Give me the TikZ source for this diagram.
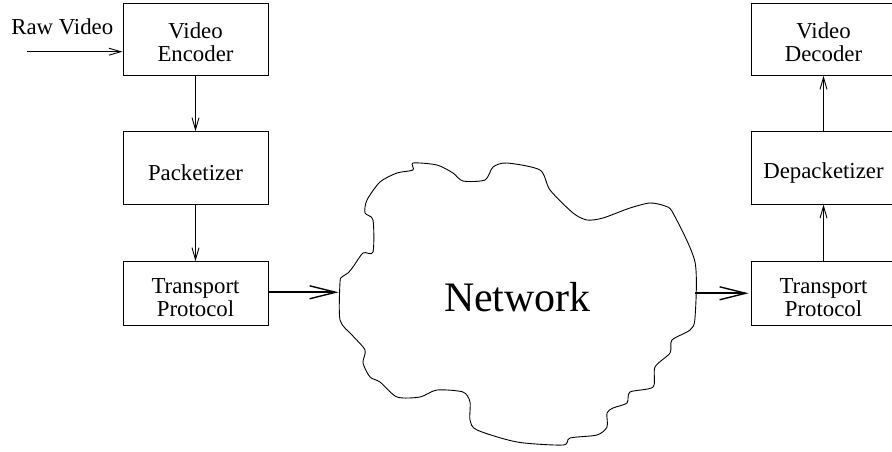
\documentclass[tikz,border=0pt]{standalone}
\usepackage{fontspec}
\setmainfont{Liberation Serif}
\usetikzlibrary{arrows.meta}
\begin{document}
\begin{tikzpicture}[x=1pt,y=-1pt,
  blk/.style={draw,line width=1pt,minimum width=145pt,inner sep=0pt},
  btxt/.style={align=center,font=\fontsize{22.8}{23.5}\selectfont,inner sep=0pt},
  thinarrow/.style={line width=0.9pt,-{Straight Barb[length=12pt,width=7pt,line width=0.9pt]}},
  thickarrow/.style={line width=1.8pt,-{Straight Barb[length=26pt,width=13pt,line width=1.4pt]}},
  cloud/.style={line width=0.9pt}]
\useasboundingbox (0,0) rectangle (892,452);
\clip (0,0) rectangle (892,452);
% left column
\node[blk,minimum height=72pt] (enc) at (195.5,39.3) {};
\node[blk,minimum height=72.3pt] (pkt) at (195.5,167.9) {};
\node[blk,minimum height=63.3pt] (tpl) at (195.5,293.4) {};
\node[btxt] (encT) at ([yshift=-3pt]enc.center) {Video\\Encoder};
\node[btxt] (pktT) at ([yshift=-5pt]pkt.center) {Packetizer};
\node[btxt] (tplT) at ([yshift=-4pt]tpl.center) {Transport\\Protocol};
% right column
\node[blk,minimum height=72pt] (dec) at (823.5,39.3) {};
\node[blk,minimum height=72.3pt] (dpk) at (823.5,167.9) {};
\node[blk,minimum height=63.3pt] (tpr) at (823.5,293.4) {};
\node[btxt] (decT) at ([yshift=-3pt]dec.center) {Video\\Decoder};
\node[btxt] (dpkT) at ([yshift=-5pt]dpk.center) {Depacketizer};
\node[btxt] (tprT) at ([yshift=-4pt]tpr.center) {Transport\\Protocol};
% raw video
\node[btxt,anchor=base west] (raw) at (11.2,35) {Raw Video};
\coordinate (rawS) at (26.7,51.7);
\draw[thinarrow] (rawS) -- (rawS -| enc.west);
% vertical arrows
\draw[thinarrow] (enc) -- (pkt);
\draw[thinarrow] (pkt) -- (tpl);
\draw[thinarrow] (tpr) -- (dpk);
\draw[thinarrow] (dpk) -- (dec);
% cloud
\draw[cloud] plot[smooth cycle, tension=0.45] coordinates {
 (340,282) (340,320) (352,335) (365,350) (363,363) (370,377) (380,382)
 (397,397) (420,397) (437,390) (463,392) (470,402) (470,420) (477,430)
 (517,442) (563,445) (570,438) (597,435) (607,427) (607,413) (613,408)
 (627,403) (630,392) (653,387) (655,367) (670,353) (672,340) (690,330)
 (695,318) (695,262) (673,213) (665,206) (650,203) (630,208) (603,218)
 (587,220) (573,213) (550,190) (540,170) (507,163) (493,167) (485,180)
 (463,181) (453,173) (437,165) (413,163) (413,170) (397,173) (380,182)
 (367,200) (365,213) (373,220) (373,252) (363,253) (353,267) (348,273)
 (342,277)};
\node[font=\fontsize{42}{42}\selectfont,inner sep=0pt] (net) at (517.5,297) {Network};
\coordinate (cin) at (338.5,292.3);
\coordinate (cout) at (695,293.3);
\draw[thickarrow] (tpl.east |- cin) -- (cin);
\draw[thickarrow] (cout) -- ([xshift=-2pt]cout -| tpr.west);
\end{tikzpicture}
\end{document}
